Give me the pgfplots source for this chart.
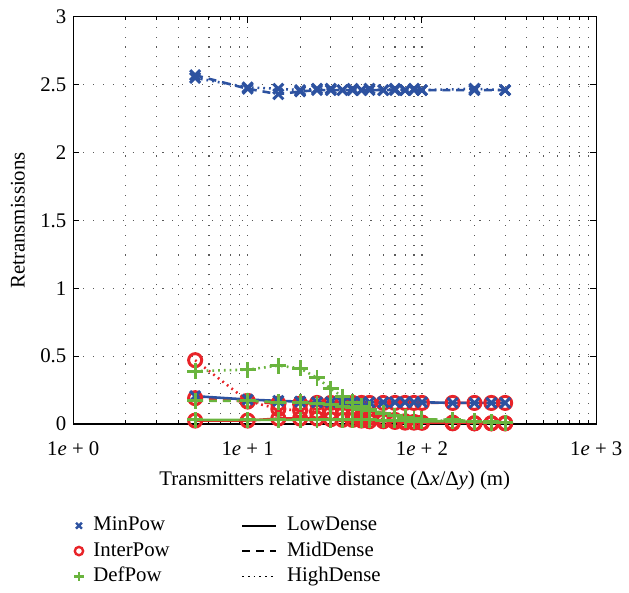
\documentclass[border=0pt]{standalone}
\usepackage{fontspec}
\setmainfont{Liberation Serif}
\usepackage{pgfplots}
\usepackage{pgfplotstable}
\pgfplotsset{compat=1.18}
\definecolor{cb}{RGB}{45,82,160}
\definecolor{cr}{RGB}{232,35,40}
\definecolor{cg}{RGB}{106,180,62}

\pgfplotstableread{
x mid hi
5 2.57 2.55
10 2.47 2.48
15 2.43 2.47
20 2.45 2.46
25 2.46 2.47
30 2.46 2.47
35 2.46 2.46
40 2.46 2.47
45 2.46 2.46
50 2.46 2.47
60 2.46 2.46
70 2.46 2.47
80 2.46 2.46
90 2.46 2.47
100 2.46 2.46
200 2.46 2.47
300 2.46 2.46
}\toptab

\pgfplotstableread{
x bl rl rm rh gl gm gh
5   0.205 0.025 0.19  0.47  0.03  0.17 0.39
10  0.18  0.025 0.165 0.17  0.03  0.17 0.40
15  0.17  0.04  0.15  0.11  0.03  0.16 0.43
20  0.165 0.04  0.15  0.10  0.03  0.16 0.41
25  0.16  0.04  0.155 0.09  0.03  0.15 0.34
30  0.16  0.035 0.155 0.08  0.03  0.14 0.26
35  0.16  0.03  0.155 0.07  0.03  0.13 0.20
40  0.16  0.03  0.155 0.06  0.03  0.12 0.16
45  0.16  0.025 0.155 0.05  0.03  0.11 0.13
50  0.16  0.02  0.155 0.045 0.03  0.10 0.11
60  0.16  0.02  0.155 0.035 0.025 0.08 0.08
70  0.16  0.015 0.155 0.03  0.025 0.06 0.06
80  0.16  0.01  0.155 0.02  0.025 0.05 0.05
90  0.16  0.01  0.155 0.015 0.02  0.04 0.04
100 0.16  0.01  0.155 0.01  0.02  0.035 0.03
150 0.155 0.005 0.155 0.01  0.02  0.03 0.02
200 0.155 0.005 0.155 0.005 0.015 0.02 0.015
250 0.155 0.005 0.155 0.005 0.01  0.015 0.01
300 0.155 0.005 0.155 0.005 0.01  0.01 0.01
}\bottab

\pgfplotsset{
 sb/.style={color=cb, line width=1.3pt, mark=x, mark size=3.6pt, mark options={solid, line width=1.5pt}},
 sr/.style={color=cr, line width=1.3pt, mark=o, mark size=3.3pt, mark options={solid, line width=1.5pt}},
 sg/.style={color=cg, line width=1.3pt, mark=+, mark size=4pt, mark options={solid, line width=1.5pt}},
 lo/.style={solid},
 md/.style={dash pattern=on 4pt off 3pt},
 hd/.style={dash pattern=on 0.9pt off 2pt},
}

\begin{document}
\begin{tikzpicture}
\begin{axis}[
  font=\fontsize{10.5}{12.6}\selectfont,
  scale only axis, width=264pt, height=205.5pt,
  xmode=log, xmin=1, xmax=1000, ymin=0, ymax=3,
  xtick={1,10,100,1000},
  xticklabels={1\textit{e} + 0, 1\textit{e} + 1, 1\textit{e} + 2, 1\textit{e} + 3},
  xticklabel style={yshift=-5.5pt},
  ytick={0,0.5,1,1.5,2,2.5,3},
  yticklabels={0,0.5,1,1.5,2,2.5,3},
  grid=both,
  major grid style={black!65, line width=0.55pt, dash pattern=on 0.55pt off 4.45pt},
  minor grid style={black!65, line width=0.55pt, dash pattern=on 0.55pt off 4.45pt},
  tick align=inside,
  major tick length=3pt, minor tick length=1.8pt,
  axis line style={line width=0.6pt},
  every tick/.style={black, line width=0.5pt},
  xlabel={Transmitters relative distance (Δ\textit{x}/Δ\textit{y}) (m)},
  ylabel={Retransmissions},
  xlabel style={at={(axis description cs:0.5,-0.138)}, anchor=center},
  ylabel style={at={(axis description cs:-0.106,0.5)}, anchor=center},
  legend columns=2,
  legend style={at={(axis description cs:-0.01,-0.21)}, anchor=north west, draw=none, fill=none,
    row sep=0.8pt, nodes={inner sep=1.5pt, text height=7pt, text depth=2pt, anchor=west},
    /tikz/every odd column/.append style={column sep=3.5pt},
    /tikz/every even column/.append style={column sep=34.5pt}},
  legend cell align=left,
]
\addlegendimage{only marks, mark=x, color=cb, mark size=2.1pt, line width=1.2pt}
\addlegendentry{MinPow}
\addlegendimage{black, line width=1.2pt}
\addlegendentry{LowDense}
\addlegendimage{only marks, mark=o, color=cr, mark size=2.1pt, line width=1.2pt}
\addlegendentry{InterPow}
\addlegendimage{black, line width=1.2pt, md}
\addlegendentry{MidDense}
\addlegendimage{only marks, mark=+, color=cg, mark size=2.3pt, line width=1.2pt}
\addlegendentry{DefPow}
\addlegendimage{black, line width=0.8pt, hd}
\addlegendentry{HighDense}

\addplot[sr, lo, forget plot] table[x=x, y=rl] {\bottab};
\addplot[sr, md, forget plot] table[x=x, y=rm] {\bottab};
\addplot[sr, hd, forget plot] table[x=x, y=rh] {\bottab};
\addplot[sb, lo, forget plot] table[x=x, y=bl] {\bottab};
\addplot[sb, md, forget plot] table[x=x, y=mid] {\toptab};
\addplot[sb, hd, forget plot] table[x=x, y=hi] {\toptab};
\addplot[sg, lo, forget plot] table[x=x, y=gl] {\bottab};
\addplot[sg, md, forget plot] table[x=x, y=gm] {\bottab};
\addplot[sg, hd, forget plot] table[x=x, y=gh] {\bottab};
\end{axis}
\path (-37pt,-80pt) rectangle (277.5pt,214pt);
\end{tikzpicture}
\end{document}
